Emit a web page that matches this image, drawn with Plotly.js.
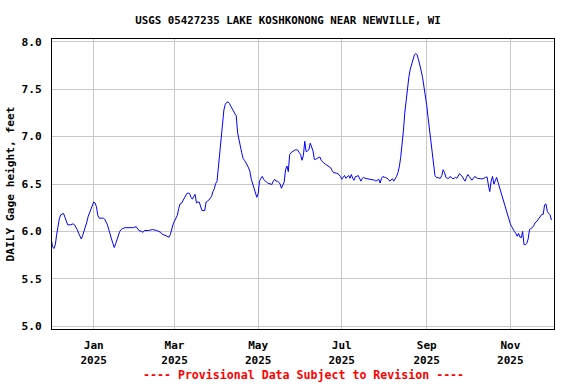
<!DOCTYPE html>
<html>
<head>
<meta charset="utf-8">
<script src="https://cdn.plot.ly/plotly-3.0.1.min.js"></script>
<style>
  html, body { margin: 0; padding: 0; background: #ffffff; }
  #chart { width: 576px; height: 384px; }
</style>
</head>
<body>
<div id="chart"></div>
<script>
const chartTitle = "USGS 05427235 LAKE KOSHKONONG NEAR NEWVILLE, WI";
const yAxisTitle = "DAILY Gage height, feet";
const footnote = "---- Provisional Data Subject to Revision ----";

const xTickVals = ["2025-01-01", "2025-03-01", "2025-05-01", "2025-07-01", "2025-09-01", "2025-11-01"];
const xTickText = ["Jan<br>2025", "Mar<br>2025", "May<br>2025", "Jul<br>2025", "Sep<br>2025", "Nov<br>2025"];
const yTickVals = [5.0, 5.5, 6.0, 6.5, 7.0, 7.5, 8.0];
const yTickText = ["5.0", "5.5", "6.0", "6.5", "7.0", "7.5", "8.0"];

const dates = [
  "2024-12-01","2024-12-02","2024-12-03","2024-12-04","2024-12-05","2024-12-06","2024-12-07","2024-12-08","2024-12-09","2024-12-10",
  "2024-12-11","2024-12-12","2024-12-13","2024-12-15","2024-12-17","2024-12-18","2024-12-19","2024-12-20","2024-12-21","2024-12-22",
  "2024-12-23","2024-12-24","2024-12-25","2024-12-26","2024-12-27","2024-12-28","2024-12-29","2024-12-30","2024-12-31",
  "2025-01-01","2025-01-02","2025-01-03","2025-01-04","2025-01-05","2025-01-07","2025-01-08","2025-01-09","2025-01-10","2025-01-11",
  "2025-01-12","2025-01-13","2025-01-14","2025-01-15","2025-01-16","2025-01-17","2025-01-18","2025-01-19","2025-01-20","2025-01-21",
  "2025-01-22","2025-01-24","2025-01-27","2025-01-30",
  "2025-02-01","2025-02-02","2025-02-03","2025-02-05","2025-02-06","2025-02-07","2025-02-10","2025-02-13","2025-02-16","2025-02-19",
  "2025-02-20","2025-02-22","2025-02-24","2025-02-25","2025-02-26","2025-02-27","2025-02-28",
  "2025-03-01","2025-03-03","2025-03-04","2025-03-05","2025-03-06","2025-03-07","2025-03-08","2025-03-10","2025-03-11","2025-03-12",
  "2025-03-13","2025-03-14","2025-03-15","2025-03-16","2025-03-17","2025-03-18","2025-03-19","2025-03-20","2025-03-21","2025-03-23",
  "2025-03-24","2025-03-25","2025-03-26","2025-03-27","2025-03-28","2025-03-29","2025-03-30","2025-03-31",
  "2025-04-01","2025-04-02","2025-04-03","2025-04-04","2025-04-05","2025-04-06","2025-04-07","2025-04-08","2025-04-09","2025-04-10",
  "2025-04-11","2025-04-12","2025-04-13","2025-04-14","2025-04-15","2025-04-16","2025-04-17","2025-04-18","2025-04-19","2025-04-20",
  "2025-04-21","2025-04-22","2025-04-23","2025-04-24","2025-04-25","2025-04-26","2025-04-27","2025-04-28","2025-04-29","2025-04-30",
  "2025-05-01","2025-05-02","2025-05-03","2025-05-04","2025-05-05","2025-05-06","2025-05-07","2025-05-08","2025-05-10","2025-05-11",
  "2025-05-12","2025-05-13","2025-05-14","2025-05-15","2025-05-16","2025-05-17","2025-05-18","2025-05-19","2025-05-20","2025-05-21",
  "2025-05-22","2025-05-23","2025-05-24","2025-05-25","2025-05-26","2025-05-27","2025-05-28","2025-05-29","2025-05-30","2025-05-31",
  "2025-06-01","2025-06-02","2025-06-03","2025-06-04","2025-06-05","2025-06-06","2025-06-07","2025-06-08","2025-06-09","2025-06-10",
  "2025-06-11","2025-06-12","2025-06-13","2025-06-14","2025-06-15","2025-06-16","2025-06-17","2025-06-18","2025-06-19","2025-06-20",
  "2025-06-21","2025-06-22","2025-06-23","2025-06-24","2025-06-25","2025-06-27","2025-06-29","2025-06-30",
  "2025-07-01","2025-07-02","2025-07-03","2025-07-04","2025-07-05","2025-07-06","2025-07-07","2025-07-08","2025-07-09","2025-07-10",
  "2025-07-11","2025-07-12","2025-07-13","2025-07-14","2025-07-15","2025-07-16","2025-07-17","2025-07-18","2025-07-20","2025-07-22",
  "2025-07-24","2025-07-25","2025-07-26","2025-07-27","2025-07-28","2025-07-29","2025-07-30","2025-07-31",
  "2025-08-01","2025-08-02","2025-08-03","2025-08-04","2025-08-05","2025-08-06","2025-08-07","2025-08-08","2025-08-09","2025-08-10",
  "2025-08-11","2025-08-12","2025-08-13","2025-08-14","2025-08-15","2025-08-16","2025-08-17","2025-08-18","2025-08-19","2025-08-20",
  "2025-08-21","2025-08-22","2025-08-23","2025-08-24","2025-08-25","2025-08-26","2025-08-27","2025-08-28","2025-08-29","2025-08-30",
  "2025-08-31",
  "2025-09-01","2025-09-02","2025-09-03","2025-09-04","2025-09-05","2025-09-06","2025-09-07","2025-09-08","2025-09-10","2025-09-11",
  "2025-09-12","2025-09-13","2025-09-14","2025-09-15","2025-09-16","2025-09-17","2025-09-18","2025-09-19","2025-09-20","2025-09-21",
  "2025-09-22","2025-09-23","2025-09-24","2025-09-25","2025-09-26","2025-09-27","2025-09-28","2025-09-29","2025-09-30",
  "2025-10-01","2025-10-02","2025-10-03","2025-10-04","2025-10-05","2025-10-06","2025-10-07","2025-10-08","2025-10-10","2025-10-12",
  "2025-10-14","2025-10-15","2025-10-16","2025-10-17","2025-10-18","2025-10-19","2025-10-20","2025-10-21","2025-10-22","2025-10-23",
  "2025-10-24","2025-10-25","2025-10-26","2025-10-27","2025-10-28","2025-10-29","2025-10-30","2025-10-31",
  "2025-11-01","2025-11-02","2025-11-03","2025-11-04","2025-11-05","2025-11-06","2025-11-07","2025-11-08","2025-11-09","2025-11-10",
  "2025-11-11","2025-11-12","2025-11-13","2025-11-14","2025-11-15","2025-11-16","2025-11-17","2025-11-18","2025-11-19","2025-11-20",
  "2025-11-21","2025-11-22","2025-11-23","2025-11-24","2025-11-25","2025-11-26","2025-11-27","2025-11-28","2025-11-29","2025-11-30",
  "2025-12-01"
];

const gageHeight = [
  5.92,5.84,5.82,5.86,5.97,6.05,6.14,6.175,6.18,6.19,
  6.15,6.10,6.07,6.07,6.08,6.07,6.05,6.02,5.98,5.95,
  5.92,5.96,6.00,6.05,6.10,6.16,6.20,6.25,6.28,
  6.31,6.30,6.26,6.17,6.14,6.14,6.14,6.13,6.10,6.07,
  6.02,5.98,5.92,5.875,5.83,5.87,5.92,5.97,6.00,6.02,
  6.03,6.04,6.04,6.04,
  6.05,6.03,6.01,6.00,5.99,6.01,6.01,6.02,6.01,5.99,
  5.97,5.96,5.95,5.94,5.97,6.03,6.08,
  6.11,6.17,6.24,6.29,6.295,6.32,6.36,6.40,6.405,6.40,
  6.36,6.34,6.37,6.39,6.30,6.31,6.31,6.26,6.22,6.22,
  6.31,6.32,6.33,6.35,6.37,6.42,6.45,6.505,
  6.53,6.68,6.84,6.97,7.17,7.28,7.34,7.36,7.365,7.35,
  7.32,7.30,7.27,7.24,7.22,7.04,6.95,6.90,6.83,6.77,
  6.75,6.73,6.70,6.67,6.63,6.55,6.50,6.455,6.42,6.36,
  6.40,6.53,6.56,6.58,6.55,6.53,6.52,6.51,6.50,6.495,
  6.53,6.55,6.53,6.53,6.52,6.50,6.455,6.49,6.52,6.65,
  6.69,6.63,6.81,6.83,6.84,6.855,6.86,6.86,6.855,6.83,
  6.81,6.75,6.80,6.95,6.84,6.85,6.86,6.93,6.88,6.85,
  6.76,6.76,6.77,6.78,6.785,6.75,6.73,6.72,6.71,6.70,
  6.69,6.68,6.67,6.64,6.62,6.615,6.60,6.58,
  6.55,6.57,6.59,6.56,6.58,6.59,6.56,6.60,6.56,6.54,
  6.58,6.58,6.59,6.56,6.53,6.56,6.57,6.56,6.555,6.55,
  6.55,6.54,6.53,6.54,6.55,6.51,6.56,6.58,
  6.57,6.57,6.56,6.55,6.53,6.54,6.555,6.53,6.55,6.58,
  6.62,6.68,6.78,6.91,7.06,7.25,7.40,7.54,7.63,7.71,
  7.77,7.83,7.86,7.875,7.86,7.81,7.76,7.69,7.62,7.53,
  7.44,
  7.33,7.20,7.08,6.98,6.86,6.68,6.59,6.57,6.565,6.56,
  6.59,6.65,6.62,6.57,6.56,6.56,6.58,6.57,6.555,6.56,
  6.57,6.56,6.58,6.61,6.59,6.58,6.55,6.53,6.57,
  6.60,6.58,6.56,6.54,6.56,6.58,6.57,6.56,6.555,6.555,
  6.57,6.575,6.49,6.42,6.53,6.58,6.50,6.54,6.57,6.52,
  6.47,6.41,6.36,6.31,6.27,6.22,6.17,6.12,
  6.08,6.05,6.02,6.00,5.98,5.95,5.98,5.94,5.935,6.00,
  5.86,5.86,5.875,5.92,6.02,6.03,6.04,6.06,6.09,6.10,
  6.12,6.15,6.17,6.18,6.18,6.28,6.29,6.21,6.19,6.175,
  6.12
];

const monoFont = "'DejaVu Sans Mono', 'Liberation Mono', monospace";

const trace = {
  x: dates,
  y: gageHeight,
  type: "scatter",
  mode: "lines",
  line: { color: "#0000ff", width: 1 },
  hoverinfo: "skip"
};

const layout = {
  width: 576,
  height: 384,
  margin: { l: 52, r: 22, t: 39, b: 55 },
  paper_bgcolor: "#ffffff",
  plot_bgcolor: "#ffffff",
  showlegend: false,
  title: {
    text: "<b>" + chartTitle + "</b>",
    font: { family: monoFont, size: 10.8, color: "#000000" },
    xref: "container", x: 0.5, xanchor: "center",
    yref: "container", y: 1 - 20.5 / 384, yanchor: "middle"
  },
  xaxis: {
    type: "date",
    range: ["2024-12-01 13:40", "2025-12-02 21:00"],
    tickmode: "array",
    tickvals: xTickVals,
    ticktext: xTickText.map(t => "<b>" + t + "</b>"),
    ticks: "",
    ticklabelstandoff: 6,
    tickfont: { family: monoFont, size: 11, color: "#000000" },
    showgrid: true,
    gridcolor: "#c8c8c8",
    gridwidth: 1,
    showline: true,
    linecolor: "#000000",
    linewidth: 1,
    mirror: true,
    zeroline: false,
    fixedrange: true
  },
  yaxis: {
    range: [4.972, 8.028],
    tickmode: "array",
    tickvals: yTickVals,
    ticktext: yTickText.map(t => "<b>" + t + "</b>"),
    ticks: "",
    ticklabelstandoff: 7,
    tickfont: { family: monoFont, size: 11.2, color: "#000000" },
    title: {
      text: "<b>" + yAxisTitle + "</b>",
      font: { family: monoFont, size: 11.2, color: "#000000" },
      standoff: 4
    },
    showgrid: true,
    gridcolor: "#c8c8c8",
    gridwidth: 1,
    showline: true,
    linecolor: "#000000",
    linewidth: 1,
    mirror: true,
    zeroline: false,
    fixedrange: true
  },
  annotations: [
    {
      text: "<b>" + footnote + "</b>",
      xref: "paper", x: 0.5, xanchor: "center",
      yref: "paper", y: -(375 - 329) / 290, yanchor: "middle",
      showarrow: false,
      font: { family: monoFont, size: 11.6, color: "#ff0000" }
    }
  ]
};

Plotly.newPlot("chart", [trace], layout, { staticPlot: true, displayModeBar: false });
</script>
</body>
</html>
